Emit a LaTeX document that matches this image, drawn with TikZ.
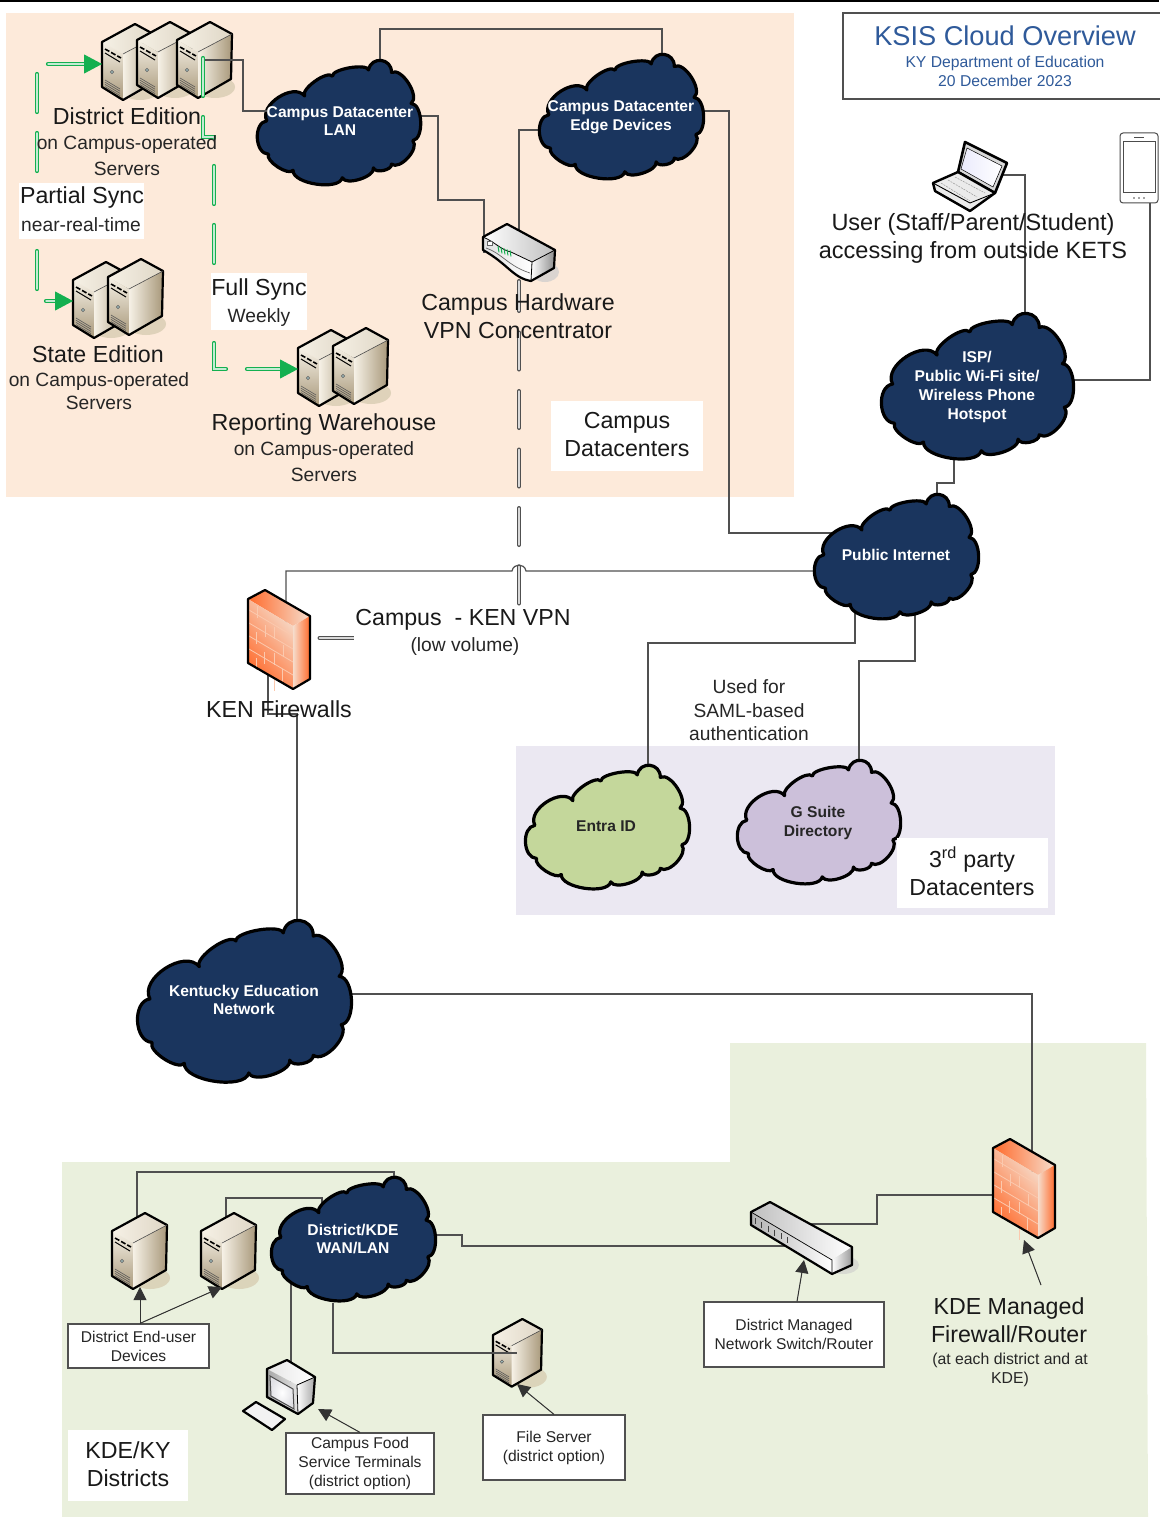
\documentclass[tikz,border=0pt]{standalone}
\usepackage{fontspec}
\setmainfont{Liberation Sans}
\usetikzlibrary{arrows.meta,backgrounds}
\pgfdeclarelayer{bgl}\pgfdeclarelayer{connl}
\pgfsetlayers{bgl,connl,main}
\definecolor{navy}{HTML}{1A355E}
\definecolor{lineg}{HTML}{505050}
\definecolor{syncg}{HTML}{14B050}
\definecolor{peach}{HTML}{FDEADA}
\definecolor{lav}{HTML}{EBE8F2}
\definecolor{paleg}{HTML}{EAF0DD}
\definecolor{titleb}{HTML}{2F5A9A}
\definecolor{entra}{HTML}{C4D79B}
\definecolor{gsuite}{HTML}{CCC0DA}
\definecolor{tanlight}{HTML}{F6F1E6}
\definecolor{tandark}{HTML}{A8987A}
\definecolor{tanshadow}{HTML}{D8CDB2}
\definecolor{fwor}{HTML}{FF6A2B}
\definecolor{fwpale}{HTML}{F6DCCB}
\definecolor{brick}{HTML}{FBC9AE}
\tikzset{
 conn/.style={draw=lineg,line width=1.2pt,line join=miter},
 callout/.style={draw=black!80,fill=black,line width=1pt,-{Triangle[length=13pt,width=13pt]}},
 syncline/.style={draw=white!75!syncg,line width=1.4pt,line cap=round,dash pattern=#1,preaction={draw=syncg,line width=4.2pt,line cap=round,dash pattern=#1}},
 synchead/.style={draw=syncg,line width=.9pt,-{Triangle[length=18pt,width=19pt]}},
 vpnline/.style={draw=black!15,line width=1.3pt,line cap=round,dash pattern=on 37pt off 21.5pt,dash phase=7pt,preaction={draw=lineg,line width=4pt,line cap=round,dash pattern=on 37pt off 21.5pt,dash phase=7pt}},
 port/.style={inner sep=0,outer sep=0,rectangle},
 big/.style={font=\fontsize{23.2}{28}\selectfont,align=center,inner sep=0,text=black!90},
 small/.style={font=\fontsize{19.2}{26.5}\selectfont,align=center,inner sep=0,text=black!85},
 cloudtxt/.style={font=\bfseries\fontsize{15.6}{18.8}\selectfont,align=center,inner sep=0,text=white},
 cloudtxtd/.style={cloudtxt,text=black!85},
 note/.style={draw=lineg,line width=1.2pt,fill=white,rectangle,inner sep=0,align=center,font=\fontsize{15.6}{19}\selectfont,text=black!85},
 whitebox/.style={fill=white,rectangle,inner sep=0},
 edgeline/.style={draw=black,line width=2.2pt,line join=round}
}
% name x0 y0 x1 y1 fill
\newcommand\cloudshape[6]{%
 \pgfmathsetmacro\cw{#4-#2}\pgfmathsetmacro\ch{#5-#3}
 \begin{scope}[shift={(#2,#3)},x=\cw pt,y=-\ch pt]
 \draw[edgeline,line width=3.2pt,fill=#6]
  (.07,.76) to[bend left=85,looseness=1.06] (.06,.49)
  to[bend left=85,looseness=1.0] (.29,.29)
  to[bend left=85,looseness=.6] (.46,.13)
  to[bend left=85,looseness=.5] (.68,.08)
  to[bend left=85,looseness=1.6] (.82,.10)
  to[bend left=85,looseness=.8] (.94,.35)
  to[bend left=85,looseness=.8] (.95,.65)
  to[bend left=85,looseness=.85] (.82,.84)
  to[bend left=85,looseness=.85] (.71,.87)
  to[bend left=85,looseness=.7] (.52,.95)
  to[bend left=85,looseness=.7] (.22,.89)
  to[bend left=85,looseness=.65] cycle;
 \node[port,minimum width=\cw pt,minimum height=\ch pt] (#1) at (.5,.5) {};
 \end{scope}}
% name x y scale
\newcommand\srv[4]{%
 \begin{scope}[shift={(#2,#3)},x=#4pt,y=-#4pt]
 \fill[tanshadow,opacity=.8] (38,65) ellipse [x radius=20pt,y radius=11pt];
 \shade[left color=tanlight,right color=tanlight!70!tandark] (0,18)--(33,0)--(55,12)--(21,30)--cycle;
 \shade[top color=tanlight,bottom color=tandark] (0,18)--(21,30)--(21,76)--(0,63)--cycle;
 \shade[left color=tanlight,right color=tandark] (21,30)--(55,12)--(54,57)--(21,76)--cycle;
 \draw[edgeline] (0,18)--(33,0)--(55,12)--(54,57)--(21,76)--(0,63)--cycle;
 \draw[black!70,line width=.6pt] (21,30)--(55,12);
 \draw[black,line width=1.6pt,dash pattern=on 5pt off 2pt] (3,25)--(19,34);
 \draw[black,line width=1pt] (3,29)--(18,38);
 \draw[black!60,line width=.7pt,fill=teal!30] (10,48) circle [radius=1.6pt];
 \foreach \v in {0,2.2,4.4,6.6}{\draw[black!65,line width=.6pt] (3,{56+\v})--(18,{65+\v});}
 \node[port,minimum width=#4*55pt,minimum height=#4*76pt] (#1) at (27.5,38) {};
 \end{scope}}
% name x y
\newcommand\firewall[3]{%
 \begin{scope}[shift={(#2,#3)}]
 \shade[left color=fwor,right color=fwpale] (0,9)--(17,0)--(62,26)--(45,36)--cycle;
 \shade[bottom color=fwor,top color=fwpale,shading angle=-50] (0,9)--(45,36)--(45,99)--(0,73)--cycle;
 \shade[left color=fwpale,right color=fwor] (45,36)--(62,26)--(62,89)--(45,99)--cycle;
 \foreach \v in {11,24,37,50}{\draw[brick,line width=.8pt] (1,{9+\v})--(45,{35+\v});}
 \foreach \u/\v in {9/2,26/12,17/16,35/25,8/28,26/38,16/43,34/50,8/54,26/64}{\draw[brick,line width=.8pt] (\u,{9+.6*\u+\v})--(\u,{9+.6*\u+\v+12});}
 \draw[edgeline] (0,9)--(17,0)--(62,26)--(62,89)--(45,99)--(0,73)--cycle;
 \node[port,minimum width=62pt,minimum height=99pt] (#1) at (31,49.5) {};
 \end{scope}}
\begin{document}
\begin{tikzpicture}[x=1pt,y=-1pt]
\useasboundingbox (0,0) rectangle (1159,1517);
\begin{pgfonlayer}{bgl}
 \fill[white] (0,0) rectangle (1159,1517);
 \fill[black] (0,0) rectangle (1159,2.2);
 \fill[peach] (6,13) rectangle (794,497);
 \fill[lav] (516,746) rectangle (1055,915);
 \fill[paleg] (62,1162)--(730,1162)--(730,1043)--(1146,1043)--(1148,1517)--(62,1517)--cycle;
\end{pgfonlayer}

% title
\node[port,draw=lineg,line width=1.2pt,minimum width=320pt,minimum height=86pt] (titlebox) at (1003,56) {};
\node[port,font=\fontsize{27.2}{30}\selectfont,text=titleb] (title) at (1005,36) {KSIS Cloud Overview};
\node[port,font=\fontsize{15.7}{19}\selectfont,text=titleb,align=center] (subtitle) at (1005,71.5) {KY Department of Education\\20 December 2023};

% clouds
\cloudshape{lan}{257}{60}{421}{184}{navy}
\cloudshape{edge}{539}{54}{704}{178}{navy}
\cloudshape{isp}{881}{313}{1074}{458}{navy}
\cloudshape{pub}{814}{494}{979}{618}{navy}
\cloudshape{entra}{525}{765}{690}{888}{entra}
\cloudshape{gs}{737}{760}{901}{883}{gsuite}
\cloudshape{ken}{137}{920}{352}{1081}{navy}
\cloudshape{dist}{271}{1177}{436}{1300}{navy}

\node[cloudtxt] (lant) at (340,121) {Campus Datacenter\\LAN};
\node[cloudtxt] (edget) at (621,117) {Campus Datacenter\\Edge Devices};
\node[cloudtxt] (ispt) at (977,387) {ISP/\\Public Wi-Fi site/\\Wireless Phone\\Hotspot};
\node[cloudtxt] (pubt) at (896,555) {Public Internet};
\node[cloudtxtd] (entrat) at (606,826) {Entra ID};
\node[cloudtxtd] (gst) at (818,823) {G Suite\\Directory};
\node[cloudtxt] (kent) at (244,1000) {Kentucky Education\\Network};
\node[cloudtxt] (distt) at (353,1239) {District/KDE\\WAN/LAN};

% servers
\srv{d1}{102}{24}{1}\srv{d2}{137}{22}{1}\srv{d3}{177}{22}{1}
\srv{s1}{73}{262}{1}\srv{s2}{108}{259}{1}
\srv{r1}{298}{330}{1}\srv{r2}{333}{328}{1}
\srv{u1}{112}{1213}{1}\srv{u2}{201}{1213}{1}
\srv{fs}{493}{1319}{.89}

% firewalls
\firewall{kenfw}{248}{590}
\firewall{kdefw}{993}{1139}

% VPN concentrator
\begin{scope}[shift={(483,224)}]
 \fill[black!20,opacity=.7] (62,48) ellipse [x radius=14pt,y radius=10pt];
 \shade[left color=white,right color=black!25] (0,13)--(24,0)--(72,26)--(49,38)--cycle;
 \shade[left color=black!12,right color=white] (0,13)--(49,38)--(48,57) .. controls (30,54) and (25,40) .. (0,26)--cycle;
 \shade[left color=white,right color=black!45] (49,38)--(72,26)--(71,44)--(48,57)--cycle;
 \draw[edgeline] (0,13)--(24,0)--(72,26)--(71,44)--(48,57) .. controls (30,54) and (25,40) .. (0,26)--cycle;
 \draw[black,line width=.8pt] (0,13) .. controls (12,18) and (18,26) .. (28,28) -- (49,38)--(48,57) (49,38)--(72,26);
 \draw[black!60,line width=.7pt] (3,24) .. controls (20,30) and (25,42) .. (47,49);
 \foreach \u in {15,18,21,24,27}{\draw[syncg,line width=1pt] (\u,{17+.35*\u})--(\u+1,{23+.35*\u});}
 \draw[black!60,fill=white] (4,17) rectangle (9,21);
 \node[port,minimum width=72pt,minimum height=57pt] (vpn) at (36,28.5) {};
\end{scope}

% district switch
\begin{scope}[shift={(751,1202)}]
 \fill[black!20,opacity=.6] (92,63) ellipse [x radius=16pt,y radius=9pt];
 \shade[left color=black!25,right color=white] (0,10)--(19,0)--(101,45)--(81,58)--cycle;
 \shade[left color=black!30,right color=white] (0,10)--(81,58)--(81,72)--(0,23)--cycle;
 \shade[left color=white,right color=black!40] (81,58)--(101,45)--(101,63)--(81,72)--cycle;
 \draw[edgeline] (0,10)--(19,0)--(101,45)--(101,63)--(81,72)--(0,23)--cycle;
 \draw[black,line width=.7pt] (0,10)--(81,58)--(81,72);
 \foreach \u in {4,10.5,17,23.5,30,36}{\draw[black!75,line width=1pt] (\u,{14+.58*\u})--(\u,{20+.58*\u});}
 \node[port,minimum width=101pt,minimum height=72pt] (sw) at (50.5,36) {};
\end{scope}

% laptop
\begin{scope}[shift={(933,141)}]
 \draw[edgeline,line width=2.6pt,fill=black!15] (32,1)--(74,22)--(62,52)--(25,31)--cycle;
 \shade[left color=black!15!blue!8!white,right color=white,draw=black,line width=.5pt] (34,7)--(69,25)--(60,46)--(28,28)--cycle;
 \draw[edgeline,line width=2.4pt,fill=black!8] (0,42)--(25,31)--(62,52)--(37,70)--(2,50)--cycle;
 \draw[black!40,line width=.5pt,dash pattern=on 2pt off 1pt] (8,42)--(37,60) (15,39)--(44,56) (22,36)--(52,52);
 \draw[black,line width=.9pt] (0,42)--(37,62)--(62,52);
 \node[port,minimum width=74pt,minimum height=71pt] (laptop) at (37,35.5) {};
\end{scope}

% phone
\begin{scope}[shift={(1120,133)}]
 \draw[draw=black!70,line width=1pt,fill=white,rounded corners=3pt] (0,0) rectangle (38,70);
 \draw[draw=black!70,line width=1pt] (3,9) rectangle (35,60);
 \draw[black!70,line width=1pt] (14,4.5)--(24,4.5);
 \foreach \u in {14,19,24}{\fill[black!70] (\u,65) circle [radius=.9pt];}
 \node[port,minimum width=38pt,minimum height=70pt] (phone) at (19,35) {};
\end{scope}

% terminal
\begin{scope}[shift={(267,1360)}]
 \shade[left color=black!10,right color=white] (0,9)--(20,0)--(48,17)--(30,25)--cycle;
 \shade[left color=black!35,right color=black!10] (0,9)--(30,25)--(31,54)--(0,37)--cycle;
 \shade[left color=white,right color=black!35] (30,25)--(48,17)--(46,43)--(31,54)--cycle;
 \shade[inner color=white,outer color=blue!15!black!12,draw=black!70,line width=1pt] (3,16)--(26,29)--(27,49)--(4,36)--cycle;
 \draw[edgeline] (0,9)--(20,0)--(48,17)--(46,43)--(31,54)--(0,37)--cycle;
 \draw[black,line width=.8pt] (30,25)--(31,54) (30,25)--(48,17);
 \node[port,minimum width=48pt,minimum height=54pt] (term) at (24,27) {};
\end{scope}
\draw[edgeline,fill=black!5] (243,1411)--(256,1402)--(285,1419)--(272,1430)--cycle;

% connectors beneath the devices
\begin{pgfonlayer}{connl}
 \draw[conn] (lan.center -| 380,0) -- (380,29) -- (662,29) -- (edge.center -| 662,0);
 \draw[conn] (lan.center |- 0,116) -- (438,116) -- (438,200) -- (484,200) -- (vpn.center -| 484,0);
 \draw[conn] (edge.center |- 0,130) -- (519,130) -- (vpn.center -| 519,0);
 \draw[conn] (edge.center |- 0,111) -- (729,111) -- (729,533) -- (pub.center |- 0,533);
 \draw[conn] (pub.center |- 0,571) -- (526,571) .. controls (524.5,563) and (513.5,563) .. (512,571) -- (286,571) -- (kenfw.center -| 286,0);
 \draw[conn] (pub.center -| 855,0) -- (855,643) -- (648,643) -- (entra.center -| 648,0);
 \draw[conn] (pub.center -| 915,0) -- (915,661) -- (859,661) -- (gs.center -| 859,0);
 \draw[conn] (isp.center -| 954,0) -- (954,483) -- (937,483) -- (pub.center -| 937,0);
 \draw[conn] (laptop.center |- 0,175) -- (1025,175) -- (isp.center -| 1025,0);
 \draw[conn] (phone.center -| 1150,0) -- (1150,380) -- (isp.center |- 0,380);
 \draw[conn] (kenfw.center -| 268,0) -- (268,714) -- (297,714) -- (ken.center -| 297,0);
 \draw[conn] (ken.center |- 0,994) -- (1032,994) -- (kdefw.center -| 1032,0);
 \draw[conn] (kdefw.center |- 0,1195) -- (877,1195) -- (877,1224) -- (sw.center |- 0,1224);
 \draw[conn] (sw.center |- 0,1246) -- (462,1246) -- (462,1235) -- (dist.center |- 0,1235);
 \draw[conn] (dist.center -| 394,0) -- (394,1172) -- (137,1172) -- (u1.center -| 137,0);
 \draw[conn] (dist.center -| 322,0) -- (322,1198) -- (226,1198) -- (u2.center -| 226,0);
 \draw[conn] (dist.center -| 291,0) -- (term.center -| 291,0);
 \draw[vpnline] (vpn.south -| 519,0) -- (519,638) -- (kenfw.center |- 0,638);
 \node[port,fill=white,minimum width=219pt,minimum height=53pt] (vpnmask) at (463,633) {};
\end{pgfonlayer}

% connectors over the devices
\coordinate (lanport) at (267,111);
\coordinate (d3port) at (203,60);
\coordinate (d3green) at (203,58);
\coordinate (distport) at (333,1303);
\coordinate (fsport) at (517,1353);
\draw[conn] (lanport) -- (243,111) -- (243,60) -- (d3port);
\draw[conn] (distport) -- (333,1353) -- (fsport);

% sync
\draw[syncline={on 38pt off 21pt}] (86,64) -- (37,64) -- (37,301) -- (60,301);
\draw[syncline={on 38pt off 21pt on 32pt off 28pt on 38pt off 21pt on 38pt off 21pt on 38pt off 21pt on 38pt off 21pt}] (d3green) -- (203,137) -- (214,137) -- (214,369) -- (282,369);
\draw[synchead] (84,64) -- (d1.west |- 0,64);
\draw[synchead] (55,301) -- (s1.west |- 0,301);
\draw[synchead] (280,369) -- (r1.west |- 0,369);

% callout arrows and notes
\node[note,minimum width=141pt,minimum height=44pt] (nuser) at (138.5,1346) {District End-user\\Devices};
\node[note,minimum width=148pt,minimum height=61pt] (nfood) at (360,1463.5) {Campus Food\\Service Terminals\\(district option)};
\node[note,minimum width=142pt,minimum height=65pt] (nfile) at (554,1447.5) {File Server\\(district option)};
\node[note,minimum width=180pt,minimum height=65pt] (nsw) at (794,1334.5) {District Managed\\Network Switch/Router};
\draw[callout] (nuser.north -| 140,0) -- (140,1287);
\draw[callout] (nuser.north -| 140,0) -- (222,1287);
\draw[callout] (nfood.north) -- (318,1409);
\draw[callout] (nfile.north) -- (517,1384);
\draw[callout] (nsw.north -| 797,0) -- (804,1260);

% labels
\node[whitebox,minimum width=125pt,minimum height=56pt] (psyncbox) at (81.5,211) {};
\node[whitebox,minimum width=96pt,minimum height=57pt] (fsyncbox) at (259,301.5) {};
\node[whitebox,minimum width=152pt,minimum height=70pt] (cdcbox) at (627,436) {};
\node[whitebox,minimum width=151pt,minimum height=70pt] (tpbox) at (972.5,873) {};
\node[whitebox,minimum width=120pt,minimum height=71pt] (kybox) at (128,1465.5) {};

\node[big] (ldist) at (127,116) {District Edition};
\node[small] (ldist2) at (127,155.5) {on Campus-operated\\Servers};
\node[big] (lps) at (82,197.5) {Partial Sync};
\node[small] (lps2) at (81,224.5) {near-real-time};
\node[big] (lfs) at (259,289.5) {Full Sync};
\node[small] (lfs2) at (259,318) {Weekly};
\node[big] (lst) at (98,354) {State Edition};
\node[small,font=\fontsize{19.2}{23}\selectfont] (lst2) at (99,391.5) {on Campus-operated\\Servers};
\node[big] (lrw) at (324,424) {Reporting Warehouse};
\node[small] (lrw2) at (324,461.5) {on Campus-operated\\Servers};
\node[big] (lvpn) at (518,316) {Campus Hardware\\VPN Concentrator};
\node[big] (lcdc) at (627,435) {Campus\\Datacenters};
\node[big] (lvk) at (463,619.5) {Campus \ - KEN VPN};
\node[small] (lvk2) at (465,647) {(low volume)};
\node[big] (lkf) at (279,709) {KEN Firewalls};
\node[small,font=\fontsize{19.2}{23.5}\selectfont] (lsaml) at (749,710.5) {Used for\\SAML-based\\authentication};
\node[big,font=\fontsize{23.5}{28}\selectfont] (luser) at (973,238.5) {User (Staff/Parent/Student)\\accessing from outside KETS};
\node[big] (ltp) at (972,871) {3\textsuperscript{rd} party\\Datacenters};
\node[big] (lky) at (128,1464) {KDE/KY\\Districts};
\node[big] (lkde) at (1009,1320) {KDE Managed\\Firewall/Router};
\node[port,font=\fontsize{15.8}{19}\selectfont,align=center,text=black!85] (lkde2) at (1010,1370) {(at each district and at\\KDE)};
\draw[callout] (1041,1285) -- (1024,1240);
\end{tikzpicture}
\end{document}
